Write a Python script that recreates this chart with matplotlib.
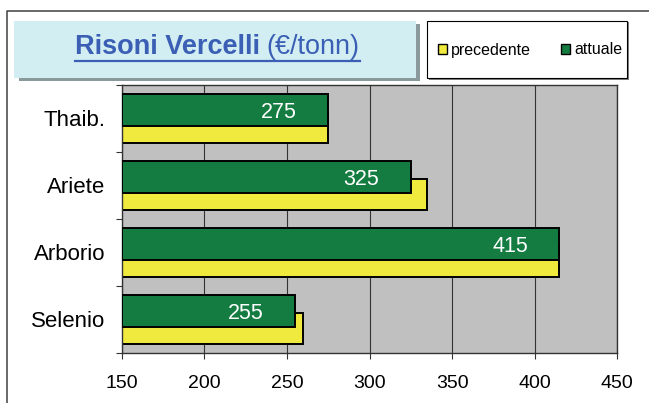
import numpy as np
import matplotlib
matplotlib.use("Agg")
import matplotlib.pyplot as plt
from matplotlib.patches import Rectangle
from matplotlib.lines import Line2D

plt.rcParams['font.family'] = ['Liberation Sans', 'DejaVu Sans']

# data
categories = ['Thaib.', 'Ariete', 'Arborio', 'Selenio']
precedente = [275, 335, 415, 260]
attuale = [275, 325, 415, 255]
xticks = [150, 200, 250, 300, 350, 400, 450]
title_bold = 'Risoni Vercelli'
title_rest = '(€/tonn)'

W, H = 649, 403
green = '#147C40'
yellow = '#F0EA3E'
blue = '#3A5FB4'

def fx(x):
    return x / W

def fy(y):
    return 1 - y / H

fig = plt.figure(figsize=(W / 100, H / 100), dpi=100)

# outer frame (clipped on right / bottom)
fig.add_artist(Line2D([fx(6.5), fx(6.5), fx(649)], [fy(403), fy(10.7), fy(10.7)],
                      transform=fig.transFigure, color='#404040', lw=1.1))

ax = fig.add_axes([fx(121.7), fy(352.5), fx(617.3) - fx(121.7), fy(84.7) - fy(352.5)])
ax.set_facecolor('#C0C0C0')

y = np.arange(len(categories))
xmin = xticks[0]
ax.barh(y + 0.14, np.array(precedente) - xmin, left=xmin, height=0.47,
        color=yellow, edgecolor='black', linewidth=1.4, label='precedente', zorder=2)
ax.barh(y - 0.125, np.array(attuale) - xmin, left=xmin, height=0.48,
        color=green, edgecolor='black', linewidth=1.4, label='attuale', zorder=3)

for yi, v in zip(y, attuale):
    ax.text(v - 30, yi - 0.005, str(v), ha='center', va='baseline',
            color='white', fontsize=15.5, zorder=4)

ax.set_xlim(xticks[0], xticks[-1])
ax.set_ylim(len(categories) - 0.5, -0.5)
ax.set_xticks(xticks)
ax.set_yticks(y)
ax.set_yticklabels(categories, fontsize=16)
ax.set_yticks(np.arange(len(categories) + 1) - 0.5, minor=True)
ax.tick_params(axis='y', which='major', length=0, pad=12)
ax.tick_params(axis='y', which='minor', length=4.5, width=0.8, color='#333333', direction='out')
ax.tick_params(axis='x', length=4.5, width=0.8, color='#333333', labelsize=14, pad=12)
ax.xaxis.grid(True, color='#333333', lw=0.8)
ax.set_axisbelow(True)
for s in ax.spines.values():
    s.set_color('#333333')
    s.set_linewidth(1.0)

# title box with shadow
fig.add_artist(Rectangle((fx(18.5), fy(81)), fx(419.6) - fx(18.5), fy(23.7) - fy(81),
                         transform=fig.transFigure, facecolor='#8A9A9C', edgecolor='none'))
fig.add_artist(Rectangle((fx(14.5), fy(78.3)), fx(415.6) - fx(14.5), fy(20.7) - fy(78.3),
                         transform=fig.transFigure, facecolor='#D3EEF3', edgecolor='none'))

t1 = fig.text(fx(75), fy(54.5), title_bold, fontsize=19.5, fontweight='bold', color=blue,
              ha='left', va='baseline')
renderer = fig.canvas.get_renderer()
e1 = t1.get_window_extent(renderer)
t2 = fig.text(fx(e1.x1 + 6.5), fy(54.5), title_rest, fontsize=19.5, color=blue,
              ha='left', va='baseline')
e2 = t2.get_window_extent(renderer)
fig.add_artist(Line2D([fx(75), e2.x1 / W], [fy(60.8), fy(60.8)],
                      transform=fig.transFigure, color=blue, lw=1.6))

# legend box
fig.add_artist(Rectangle((fx(428.5), fy(79.8)), fx(628.9) - fx(428.5), fy(22.2) - fy(79.8),
                         transform=fig.transFigure, facecolor='#808080', edgecolor='none'))
fig.add_artist(Rectangle((fx(427.2), fy(78.3)), fx(627.4) - fx(427.2), fy(20.7) - fy(78.3),
                         transform=fig.transFigure, facecolor='white', edgecolor='black', lw=0.8))
handles, labels = ax.get_legend_handles_labels()
leg = fig.legend(handles, labels, loc='center', bbox_to_anchor=(fx(530), fy(50)),
                 ncol=2, frameon=False, fontsize=11.5, handlelength=0.55, handleheight=0.55,
                 handletextpad=0.25, columnspacing=1.9, borderpad=0)
for p in leg.get_patches():
    p.set_linewidth(1.0)

fig.savefig('out.png', dpi=100)
